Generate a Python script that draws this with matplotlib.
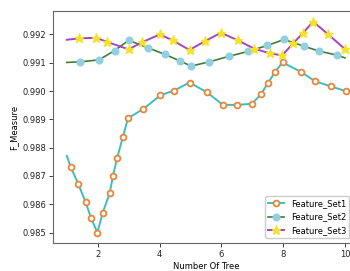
import matplotlib
matplotlib.use("Agg")
import matplotlib.pyplot as plt

# Feature_Set1 (first point is line start without marker)
x1 = [1.0, 1.12, 1.365, 1.61, 1.78, 1.99, 2.16, 2.39, 2.49, 2.63, 2.81, 2.98, 3.48, 4.03,
      4.46, 4.97, 5.54, 6.05, 6.52, 6.99, 7.28, 7.50, 7.74, 7.98, 8.57, 9.04, 9.56, 10.04]
y1 = [0.98771, 0.98733, 0.98673, 0.98607, 0.98552, 0.98500, 0.98570, 0.98640, 0.98699,
      0.98764, 0.98836, 0.98904, 0.98937, 0.98985, 0.99001, 0.99030, 0.98995, 0.98951,
      0.98951, 0.98955, 0.98988, 0.99027, 0.99067, 0.99101, 0.99068, 0.99034, 0.99016, 0.98999]

# Feature_Set2 (first and last points are line ends without marker)
x2 = [1.0, 1.42, 2.04, 2.55, 3.00, 3.62, 4.18, 4.65, 5.02, 5.61, 6.26, 6.87, 7.49, 8.03,
      8.68, 9.16, 9.73, 10.0]
y2 = [0.99101, 0.99103, 0.99110, 0.99143, 0.99179, 0.99153, 0.99129, 0.99107, 0.99088,
      0.99103, 0.99123, 0.99140, 0.99161, 0.99182, 0.99158, 0.99141, 0.99127, 0.99117]

# Feature_Set3 (first point is line start without marker)
x3 = [1.0, 1.39, 1.95, 2.29, 3.00, 3.43, 4.01, 4.42, 4.97, 5.47, 5.99, 6.53, 7.06, 7.57,
      7.97, 8.32, 8.65, 8.97, 9.46, 9.99]
y3 = [0.99181, 0.99186, 0.99188, 0.99174, 0.99147, 0.99172, 0.99200, 0.99179, 0.99145,
      0.99176, 0.99206, 0.99179, 0.99150, 0.99133, 0.99126, 0.99168, 0.99206, 0.99245,
      0.99200, 0.99149]

labels = ["Feature_Set1", "Feature_Set2", "Feature_Set3"]
x_label = "Number Of Tree"
y_label = "F_Measure"

plt.rcParams['font.family'] = ['DejaVu Sans']
plt.rcParams['font.size'] = 6

fig = plt.figure(figsize=(3.5, 2.71), dpi=100)
ax = fig.add_axes([0.151, 0.103, 0.878, 0.856])

ax.plot(x1, y1, color='#3dbdbd', lw=1.4, marker='o', markersize=4.2,
        markerfacecolor='white', markeredgecolor='#e8863a', markeredgewidth=1.3,
        markevery=list(range(1, len(x1))), label=labels[0])
ax.plot(x2, y2, color='#3f7f35', lw=1.2, marker='o', markersize=4.8,
        markerfacecolor='#93cfe0', markeredgecolor='#93cfe0',
        markevery=list(range(1, len(x2) - 1)), label=labels[1])
ax.plot(x3, y3, color='#a545c4', lw=1.4, marker='*', markersize=6.5,
        markerfacecolor='#f4e22a', markeredgecolor='#f4e22a',
        markevery=list(range(1, len(x3))), label=labels[2])

ax.set_xticks([2, 4, 6, 8, 10])
ax.set_yticks([0.985, 0.986, 0.987, 0.988, 0.989, 0.990, 0.991, 0.992])
ax.yaxis.set_major_formatter(matplotlib.ticker.FormatStrFormatter('%.3f'))
ax.set_xlabel(x_label, labelpad=2)
ax.set_ylabel(y_label, labelpad=3)
for s in ax.spines.values():
    s.set_color('#666666')
    s.set_linewidth(0.8)
ax.tick_params(colors='#222222', length=3, width=0.6, pad=2)
ax.legend(loc='lower right', fontsize=6, framealpha=1, edgecolor='#cccccc',
          bbox_to_anchor=(0.965, 0.022), borderaxespad=0, handlelength=1.9)

fig.savefig('out.png', dpi=100)
